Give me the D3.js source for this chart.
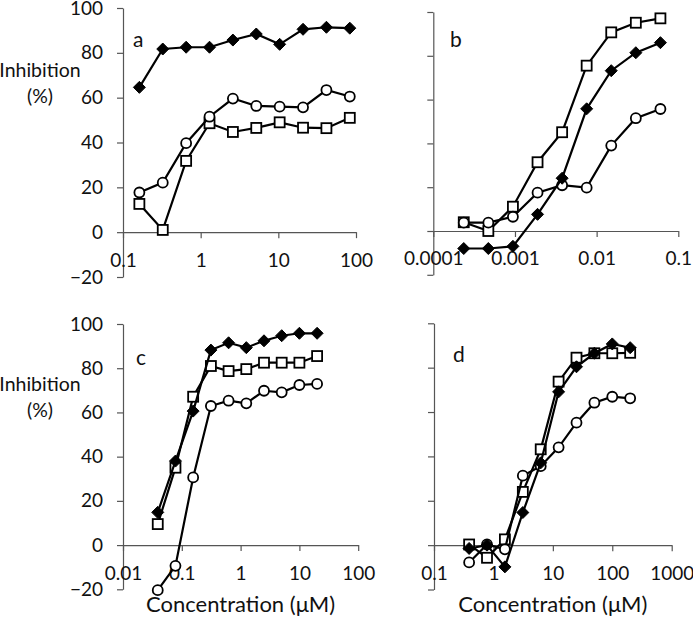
<!DOCTYPE html>
<html><head><meta charset="utf-8">
<script src="https://cdn.jsdelivr.net/npm/d3@7"></script>
<style>
body{margin:0;background:#fff;}
text{font-family:Lato,"Open Sans",sans-serif;}
</style></head>
<body><svg id="chart" width="693" height="617"></svg>
<script>
// ---- data ----
const xA = [0.1625, 0.325, 0.65, 1.3, 2.6, 5.2, 10.4, 20.8, 41.6, 83.2];
const aDiamond = [64.6, 81.7, 82.5, 82.5, 85.7, 88.4, 83.8, 90.5, 91.4, 91.0];
const aCircle  = [17.7, 22.1, 39.7, 51.5, 59.6, 56.3, 56.0, 55.7, 63.4, 60.5];
const aSquare  = [12.6, 1.0, 31.8, 48.6, 44.7, 46.5, 49.0, 46.6, 46.4, 51.0];

const xB = [0.000236, 0.000472, 0.000944, 0.00189, 0.00378, 0.00755, 0.0151, 0.0302, 0.0604];
const bDiamond = [-8.0, -8.0, -7.0, 7.6, 24.1, 55.8, 73.2, 81.4, 86.0];
const bCircle  = [3.8, 3.8, 6.5, 17.5, 20.9, 19.8, 39.0, 51.5, 55.7];
const bSquare  = [4.0, 0.0, 11.1, 31.4, 45.1, 75.5, 90.7, 95.1, 97.1];

const xC = [0.039, 0.078, 0.156, 0.3125, 0.625, 1.25, 2.5, 5, 10, 20];
const cDiamond = [14.8, 38.0, 60.6, 88.2, 91.5, 89.3, 92.4, 94.7, 95.8, 95.8];
const cCircle  = [-20.4, -9.4, 30.6, 62.9, 65.3, 64.1, 69.8, 69.1, 72.4, 72.9];
const cSquare  = [9.5, 35.0, 67.1, 81.0, 78.7, 79.6, 82.5, 82.5, 82.5, 85.5];

const xD = [0.39, 0.78, 1.56, 3.125, 6.25, 12.5, 25, 50, 100, 200];
const dDiamond = [-1.5, 0.0, -9.8, 14.7, 37.1, 69.1, 80.4, 86.5, 90.7, 89.0];
const dCircle  = [-7.8, 0.3, -1.9, 31.3, 35.6, 44.1, 55.2, 64.2, 66.9, 66.2];
const dSquare  = [0.3, -5.7, 2.6, 24.0, 43.2, 73.7, 84.5, 86.5, 86.5, 86.7];

const yTicks = [-20, 0, 20, 40, 60, 80, 100];
const xTicksA = [0.1, 1, 10, 100];
const xTicksB = [0.0001, 0.001, 0.01, 0.1];
const xTicksC = [0.01, 0.1, 1, 10, 100];
const xTicksD = [0.1, 1, 10, 100, 1000];
const xTickLabelsA = ["0.1", "1", "10", "100"];
const xTickLabelsB = ["0.0001", "0.001", "0.01", "0.1"];
const xTickLabelsC = ["0.01", "0.1", "1", "10", "100"];
const xTickLabelsD = ["0.1", "1", "10", "100", "1000"];
const panelLetters = ["a", "b", "c", "d"];
const yTitle = ["Inhibition", "(%)"];
const xTitle = "Concentration (μM)";

// ---- layout ----
const panels = [
  {letter:panelLetters[0], xs:xA, d:aDiamond, c:aCircle, s:aSquare, ticks:xTicksA, labels:xTickLabelsA,
   xr:[123,356], yr:[277,8], yLabels:true, xTitle:false, lx:133, ly:47},
  {letter:panelLetters[1], xs:xB, d:bDiamond, c:bCircle, s:bSquare, ticks:xTicksB, labels:xTickLabelsB,
   xr:[433.3,678.3], yr:[274.8,12], yLabels:false, xTitle:false, lx:450, ly:47},
  {letter:panelLetters[2], xs:xC, d:cDiamond, c:cCircle, s:cSquare, ticks:xTicksC, labels:xTickLabelsC,
   xr:[123,358.2], yr:[589.3,324], yLabels:true, xTitle:true, lx:136, ly:365},
  {letter:panelLetters[3], xs:xD, d:dDiamond, c:dCircle, s:dSquare, ticks:xTicksD, labels:xTickLabelsD,
   xr:[434,671.7], yr:[589.5,323.3], yLabels:false, xTitle:true, lx:453, ly:362},
];

const svg = d3.select("#chart");
const FS = 19;

panels.forEach(p => {
  const x = d3.scaleLog().domain([p.ticks[0], p.ticks[p.ticks.length-1]]).range(p.xr);
  const y = d3.scaleLinear().domain([-20, 100]).range(p.yr);
  const g = svg.append("g");

  // y axis
  const ya = d3.axisLeft(y).tickValues(yTicks).tickSize(6).tickSizeOuter(0).tickPadding(14)
    .tickFormat(p.yLabels ? d3.format("d") : () => "");
  const yg = g.append("g").attr("transform", `translate(${p.xr[0]},0)`).call(ya);
  yg.select(".domain").attr("stroke", "#555").attr("stroke-width", 1.2);
  yg.selectAll(".tick line").attr("stroke", "#555").attr("stroke-width", 1.2);
  yg.selectAll("text").attr("font-size", FS).attr("fill", "#111").attr("font-family", "Lato");

  // x axis at y=0
  const xa = d3.axisBottom(x).tickValues(p.ticks).tickSize(6).tickSizeOuter(0).tickPadding(15)
    .tickFormat((v, i) => p.labels[i]);
  const xg = g.append("g").attr("transform", `translate(0,${y(0)})`).call(xa);
  xg.select(".domain").attr("stroke", "#555").attr("stroke-width", 1.2);
  xg.selectAll(".tick line").attr("stroke", "#555").attr("stroke-width", 1.2);
  xg.selectAll("text").attr("font-size", FS).attr("fill", "#111").attr("font-family", "Lato");

  // panel letter
  g.append("text").attr("x", p.lx).attr("y", p.ly).attr("font-size", FS + 2).attr("fill", "#111").text(p.letter);

  // y title
  if (p.yLabels) {
    const cy = y(60);
    g.append("text").attr("x", 40).attr("y", cy - 21).attr("text-anchor", "middle")
      .attr("font-size", FS + 0.5).attr("fill", "#111").text(yTitle[0]);
    g.append("text").attr("x", 40).attr("y", cy + 5).attr("text-anchor", "middle")
      .attr("font-size", FS + 0.5).attr("fill", "#111").text(yTitle[1]);
  }
  if (p.xTitle) {
    g.append("text").attr("x", (p.xr[0] + p.xr[1]) / 2).attr("y", 612).attr("text-anchor", "middle")
      .attr("font-size", 22).attr("fill", "#111").text(xTitle);
  }

  const line = d3.line().x(d => x(d[0])).y(d => y(d[1]));
  const series = [
    {vals:p.s, shape:"square"},
    {vals:p.c, shape:"circle"},
    {vals:p.d, shape:"diamond"},
  ];
  series.forEach(s => {
    const pts = p.xs.map((v, i) => [v, s.vals[i]]);
    g.append("path").datum(pts).attr("d", line).attr("fill", "none")
      .attr("stroke", "#000").attr("stroke-width", 2.2);
    const m = g.append("g");
    pts.forEach(pt => {
      const cx = x(pt[0]), cy = y(pt[1]);
      if (s.shape === "square") {
        m.append("rect").attr("x", cx - 5).attr("y", cy - 5).attr("width", 10).attr("height", 10)
          .attr("fill", "#fff").attr("stroke", "#000").attr("stroke-width", 1.8);
      } else if (s.shape === "circle") {
        m.append("circle").attr("cx", cx).attr("cy", cy).attr("r", 5)
          .attr("fill", "#fff").attr("stroke", "#000").attr("stroke-width", 1.8);
      } else {
        m.append("path").attr("d", `M${cx},${cy-6}L${cx+6},${cy}L${cx},${cy+6}L${cx-6},${cy}Z`)
          .attr("fill", "#000").attr("stroke", "#000").attr("stroke-width", 1);
      }
    });
  });
});
</script></body></html>
